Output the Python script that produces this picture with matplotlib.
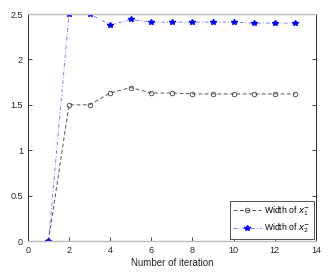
import matplotlib
matplotlib.use("Agg")
import matplotlib.pyplot as plt

iterations = list(range(1, 14))
width_x1 = [0, 1.50, 1.50, 1.63, 1.69, 1.63, 1.63, 1.62, 1.62, 1.62, 1.62, 1.62, 1.62]
width_x2 = [0, 2.50, 2.50, 2.38, 2.44, 2.41, 2.41, 2.41, 2.41, 2.41, 2.40, 2.40, 2.40]
xticks = [0, 2, 4, 6, 8, 10, 12, 14]
yticks = [0, 0.5, 1, 1.5, 2, 2.5]

plt.rcParams['font.family'] = ['Liberation Sans', 'DejaVu Sans']
fig = plt.figure(figsize=(3.36, 2.80), dpi=100)
ax = fig.add_axes([0.083, 0.139, 0.857, 0.811])

ax.plot(iterations, width_x1, linestyle=(0, (4, 2.5)), color='#555555', lw=0.7,
        marker='o', markersize=3.3, markerfacecolor='none', markeredgecolor='#444444',
        markeredgewidth=0.6, label=r'Width of $x^{-}_{1}$')
ax.plot(iterations, width_x2, linestyle=(0, (4, 2, 1, 2)), color='#8080ff', lw=0.7,
        marker='*', markersize=4.2, markerfacecolor='#0000ff', markeredgecolor='#0000ff',
        label=r'Width of $x^{-}_{2}$')

ax.set_xlim(0, 14)
ax.set_ylim(0, 2.5)
ax.set_xticks(xticks)
ax.set_yticks(yticks)
ax.set_yticklabels(['0', '0.5', '1', '1.5', '2', '2.5'])
ax.tick_params(direction='in', length=3, width=0.6, labelsize=6.5, colors='#262626',
               top=False, right=True)
for s in ['left', 'right']:
    ax.spines[s].set_color('#262626')
    ax.spines[s].set_linewidth(0.7)
for s in ['top', 'bottom']:
    ax.spines[s].set_color('#bbbbbb')
    ax.spines[s].set_linewidth(1.0)
ax.set_xlabel('Number of iteration', fontsize=7, color='#262626', labelpad=2)

leg = ax.legend(loc='lower right', fontsize=6.2, frameon=True, fancybox=False,
                edgecolor='#262626', handlelength=3.2, borderpad=0.4,
                labelspacing=0.5, handletextpad=0.4, borderaxespad=0.25)
leg.get_frame().set_linewidth(0.7)

fig.savefig('out.png', dpi=100)
